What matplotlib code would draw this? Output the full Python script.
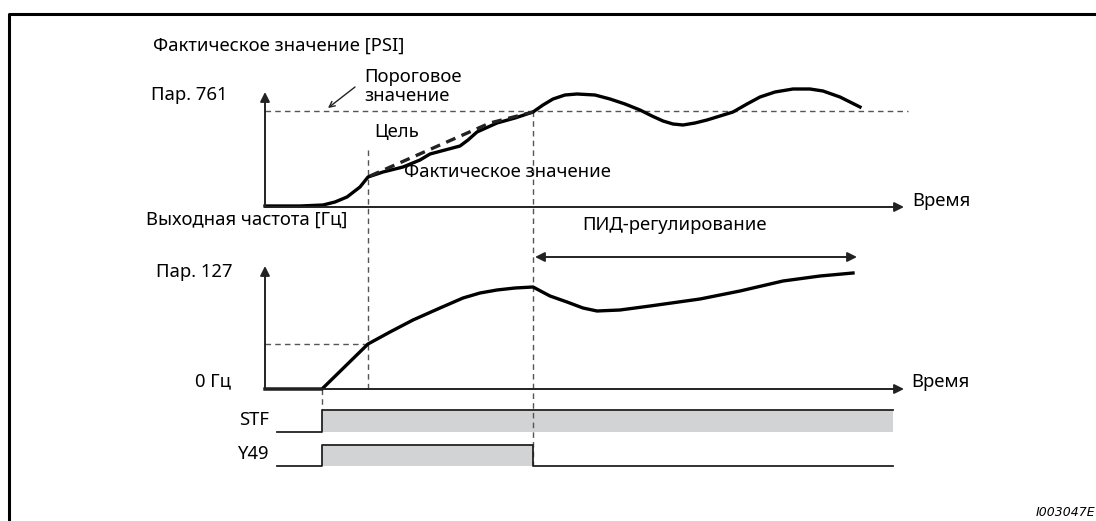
import matplotlib.pyplot as plt

plt.rcParams['font.family'] = ['Noto Sans', 'DejaVu Sans']

# Фактическое значение (верхний график), координаты в пикселях схемы
pv_t = [265, 300, 323, 335, 347, 360, 368, 383, 403, 420, 430, 445, 460, 468, 477,
        497, 515, 533, 543, 553, 565, 577, 595, 610, 625, 640, 652, 663, 673, 683,
        695, 707, 720, 733, 747, 760, 775, 793, 810, 823, 840, 860]
pv_y = [206, 206, 205, 202, 197, 187, 177, 172, 167, 160, 154, 150, 146, 140, 132,
        123, 118, 112, 105, 99, 95, 94, 95, 99, 104, 110, 116, 121, 124, 125,
        123, 120, 116, 112, 104, 97, 92, 89, 89, 91, 97, 107]

# Цель (пунктир)
sp_t = [370, 440, 490, 533]
sp_y = [176, 145, 123, 112]

# Выходная частота (нижний график)
f_t = [265, 322, 368, 390, 413, 440, 463, 480, 497, 515, 533, 550, 567, 583, 597,
       620, 650, 700, 740, 783, 820, 853]
f_y = [389, 389, 344, 332, 320, 308, 298, 293, 290, 288, 287, 296, 302, 308, 311,
       310, 306, 299, 291, 281, 276, 273]

# Сигналы
stf_on, stf_off = 322, 893
y49_on, y49_off = 322, 533

fig = plt.figure(figsize=(10.96, 5.21), dpi=100)
ax = fig.add_axes([0, 0, 1, 1])
ax.set_xlim(0, 1096)
ax.set_ylim(521, 0)
ax.axis('off')

axc = '#222222'
dc = '#555555'
fs = 13.3

# рамка
ax.plot([9, 9, 1096], [521, 14, 14], color='black', lw=2.2, solid_capstyle='butt')

def arrow(x0, y0, x1, y1, style='-|>', lw=1.4, ms=14):
    ax.annotate('', xy=(x1, y1), xytext=(x0, y0),
                arrowprops=dict(arrowstyle=style, color=axc, lw=lw,
                                mutation_scale=ms, shrinkA=0, shrinkB=0))

# оси
arrow(265, 207, 265, 92)
arrow(265, 207, 904, 207)
arrow(265, 389, 265, 266)
arrow(265, 389, 904, 389)

# пунктиры
dash = dict(color=dc, lw=1.0, dashes=(4, 3))
ax.plot([265, 908], [111, 111], **dash)
ax.plot([368, 368], [150, 389], **dash)
ax.plot([533, 533], [111, 466], **dash)
ax.plot([322, 322], [389, 410], **dash)
ax.plot([265, 368], [344, 344], **dash)

# кривые
ax.plot(pv_t, pv_y, color='black', lw=2.4, solid_joinstyle='round')
ax.plot(sp_t, sp_y, color='#222222', lw=2.4, dashes=(3, 2))
ax.plot(f_t, f_y, color='black', lw=2.4, solid_joinstyle='round')

# ПИД-регулирование
ax.annotate('', xy=(535, 257), xytext=(857, 257),
            arrowprops=dict(arrowstyle='<|-|>', color=axc, lw=1.4,
                            mutation_scale=14, shrinkA=0, shrinkB=0))

# указатель порога
ax.annotate('', xy=(328, 108), xytext=(355, 87),
            arrowprops=dict(arrowstyle='->', color=axc, lw=1.0,
                            mutation_scale=10, shrinkA=0, shrinkB=0))

# STF
ax.fill_between([stf_on, stf_off], 410, 432, color='#d1d3d4', lw=0)
ax.plot([277, stf_on, stf_on, stf_off], [432, 432, 410, 410], color=axc, lw=1.3)
# Y49
ax.fill_between([y49_on, y49_off], 445, 466, color='#d1d3d4', lw=0)
ax.plot([277, y49_on, y49_on, y49_off, y49_off, stf_off],
        [466, 466, 445, 445, 466, 466], color=axc, lw=1.3)

# тексты
t = dict(fontsize=fs, color='black', va='center')
ax.text(153, 46, 'Фактическое значение [PSI]', **t)
ax.text(364, 77, 'Пороговое', **t)
ax.text(364, 96, 'значение', **t)
ax.text(151, 95, 'Пар. 761', **t)
ax.text(374, 132, 'Цель', **t)
ax.text(404, 172, 'Фактическое значение', **t)
ax.text(912, 201, 'Время', **t)
ax.text(146, 220, 'Выходная частота [Гц]', **t)
ax.text(674, 225, 'ПИД-регулирование', ha='center', **t)
ax.text(156, 272, 'Пар. 127', **t)
ax.text(231, 381, '0 Гц', ha='right', **t)
ax.text(911, 382, 'Время', **t)
ax.text(269, 420, 'STF', ha='right', **t)
ax.text(269, 454, 'Y49', ha='right', **t)
ax.text(1095, 512, 'I003047E', ha='right', va='center', fontsize=9,
        style='italic', family='DejaVu Sans')

fig.savefig('out.png', dpi=100)
